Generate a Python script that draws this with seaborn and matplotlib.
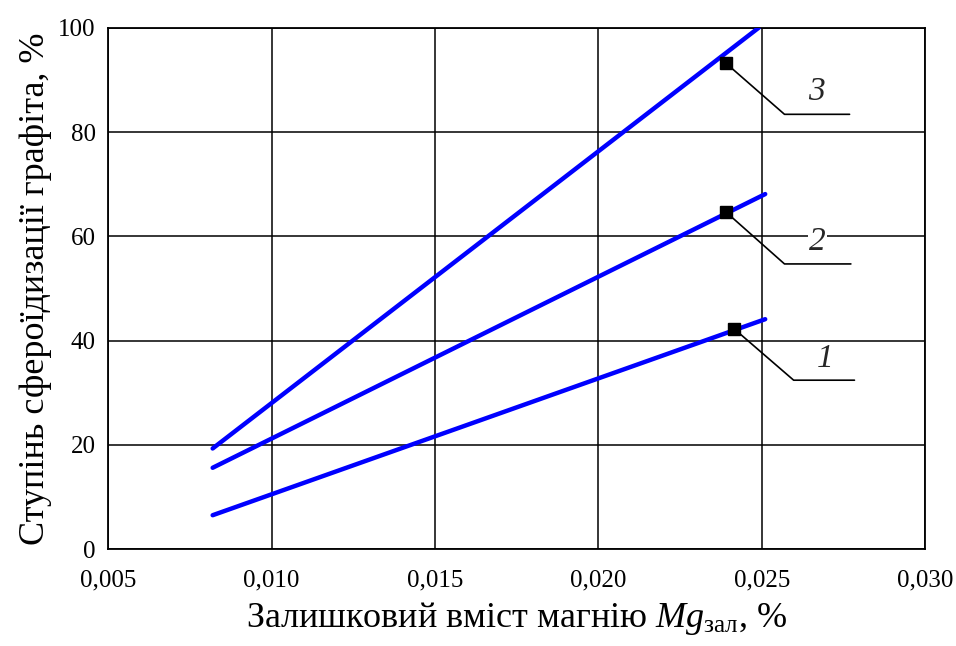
import numpy as np
import pandas as pd
import matplotlib
matplotlib.use("Agg")
import matplotlib.pyplot as plt
import seaborn as sns

# ==========================================================
# DATA
# ==========================================================

curve_ids = ["1", "2", "3"]
x_start = [0.0082, 0.0082, 0.0082]
x_end = [0.0251, 0.0251, 0.0249]
y_start = [6.5, 15.6, 19.3]
y_end = [44.1, 68.1, 100.0]

# marked points on each curve
mark_x = [0.02416, 0.02391, 0.0239]
mark_y = [42.2, 64.6, 93.2]

# leader lines: bend point, end of shelf, label position
bend_x = [0.02597, 0.02569, 0.02569]
bend_y = [32.4, 54.7, 83.4]
shelf_x = [0.02783, 0.02772, 0.02768]
label_x = [0.02694, 0.02670, 0.02666]
label_y = [36.6, 59.0, 87.7]

x_ticks = [0.005, 0.010, 0.015, 0.020, 0.025, 0.030]
x_tick_labels = ["0,005", "0,010", "0,015", "0,020", "0,025", "0,030"]
y_ticks = [0, 20, 40, 60, 80, 100]
y_tick_labels = ["0", "20", "40", "60", "80", "100"]

# ==========================================================
# LONG FORM TABLE
# ==========================================================

rows = []
for i, cid in enumerate(curve_ids):
    rows.append({"curve": cid, "x": x_start[i], "y": y_start[i]})
    rows.append({"curve": cid, "x": x_end[i], "y": y_end[i]})
df = pd.DataFrame(rows)

# ==========================================================
# PLOT
# ==========================================================

sns.set_theme(style="white")
plt.rcParams["font.family"] = ["Liberation Serif", "DejaVu Serif"]
plt.rcParams["mathtext.fontset"] = "custom"
plt.rcParams["mathtext.rm"] = "Liberation Serif"
plt.rcParams["mathtext.it"] = "Liberation Serif:italic"

fig = plt.figure(figsize=(9.56, 6.46), dpi=100)
ax = fig.add_axes([0.113, 0.150, 0.855, 0.807])

sns.lineplot(
    data=df,
    x="x",
    y="y",
    units="curve",
    estimator=None,
    color="#0000ff",
    linewidth=3.2,
    solid_capstyle="round",
    ax=ax,
    zorder=3
)

for i in range(len(curve_ids)):
    ax.plot(
        [mark_x[i], bend_x[i], shelf_x[i]],
        [mark_y[i], bend_y[i], bend_y[i]],
        color="black",
        linewidth=1.2,
        zorder=4
    )
    ax.text(
        label_x[i], label_y[i], curve_ids[i],
        fontsize=24, style="italic",
        ha="center", va="center",
        bbox=dict(facecolor="white", edgecolor="none", pad=1),
        zorder=4
    )

ax.plot(
    mark_x, mark_y,
    linestyle="none",
    marker="s",
    markersize=8,
    markerfacecolor="black",
    markeredgecolor="black",
    zorder=5
)

ax.set_xlim(0.005, 0.030)
ax.set_ylim(0, 100)
ax.set_xticks(x_ticks)
ax.set_xticklabels(x_tick_labels)
ax.set_yticks(y_ticks)
ax.set_yticklabels(y_tick_labels)
ax.tick_params(length=0, labelsize=18, colors="black")
ax.tick_params(axis="x", pad=15)
ax.tick_params(axis="y", pad=9)

ax.grid(True, color="black", linewidth=1.1)
for s in ax.spines.values():
    s.set_color("black")
    s.set_linewidth(1.3)
    s.set_visible(True)

ax.set_xlabel(
    r"Залишковий вміст магнію $Mg_{\mathrm{зал}}$, $\%$",
    fontsize=26, color="black", labelpad=6
)
ax.set_ylabel(
    "Ступінь сфероїдизації графіта, %",
    fontsize=26, color="black", labelpad=4
)

fig.savefig("out.png", dpi=100, facecolor="white")
